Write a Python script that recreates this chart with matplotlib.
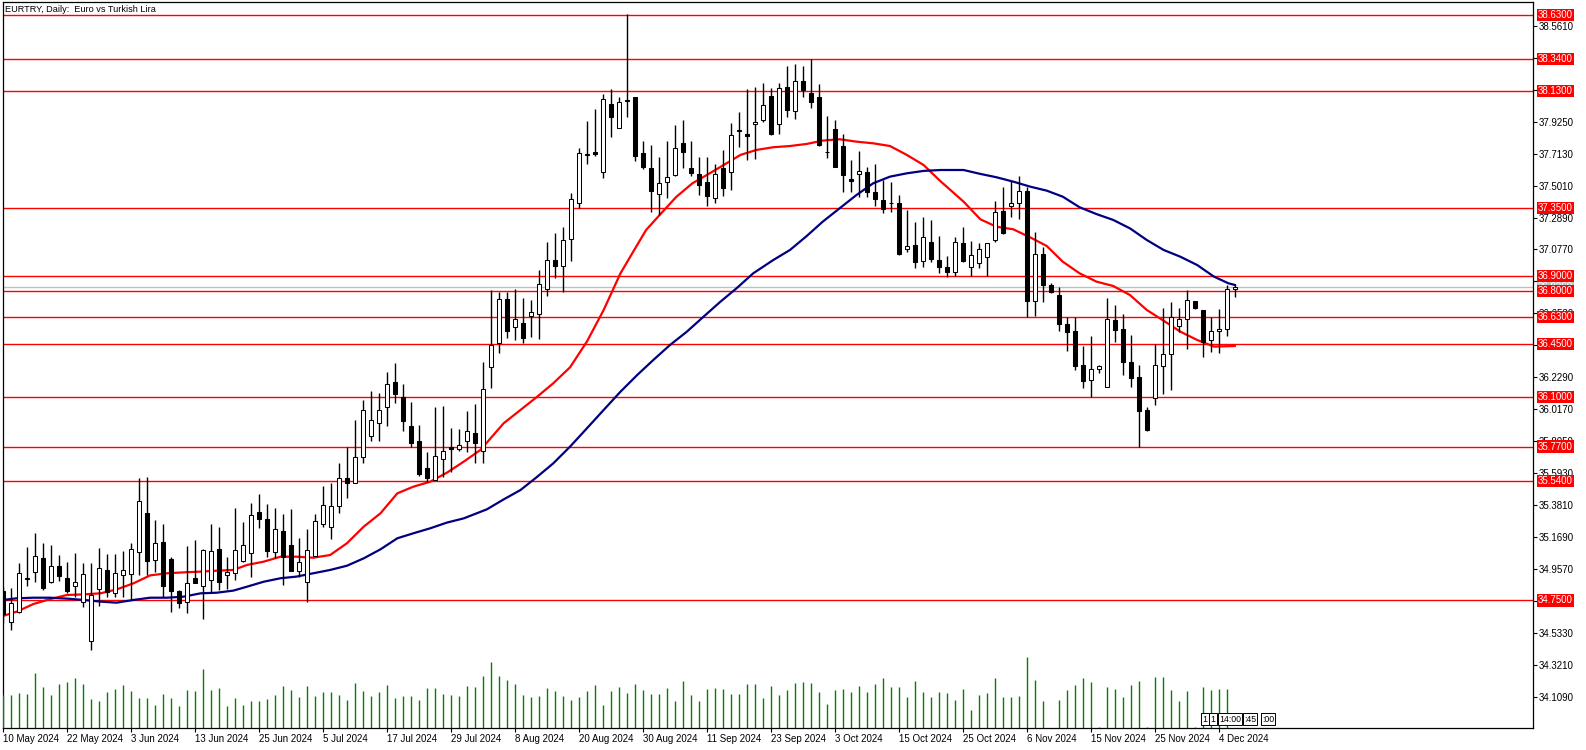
import matplotlib
matplotlib.use("Agg")
import matplotlib.pyplot as plt

plt.rcParams['font.family'] = ['Liberation Sans', 'DejaVu Sans']

# EURTRY daily bars, 10 May 2024 -> 6 Dec 2024 (bar index 0..154)
opens = [34.81, 34.61, 34.675, 34.89, 34.941, 35.031, 34.874, 34.976, 34.899, 34.843,
         34.737, 34.483, 34.823, 34.949, 34.801, 34.921, 34.923, 35.073, 35.330, 35.016,
         35.135, 35.025, 34.810, 34.737, 34.899, 34.843, 34.885, 35.091, 34.916, 34.932,
         35.014, 35.062, 35.336, 35.290, 35.073, 35.210, 35.118, 34.947, 34.874, 35.045,
         35.255, 35.239, 35.378, 35.560, 35.527, 35.699, 35.838, 35.929, 36.030, 36.198,
         36.101, 35.907, 35.807, 35.628, 35.549, 35.686, 35.770, 35.752, 35.805, 35.858,
         35.743, 36.300, 36.455, 36.747, 36.561, 36.588, 36.638, 36.647, 36.813, 37.007,
         36.970, 37.144, 37.383, 37.706, 37.724, 37.593, 38.042, 37.885, 38.068, 38.086,
         37.715, 37.615, 37.443, 37.522, 37.569, 37.781, 37.615, 37.578, 37.527, 37.416,
         37.615, 37.589, 37.863, 37.843, 37.907, 37.934, 38.095, 37.907, 38.152, 37.993,
         38.192, 38.113, 38.086, 37.721, 37.874, 37.763, 37.542, 37.576, 37.591, 37.458,
         37.405, 37.383, 37.383, 37.078, 37.107, 37.003, 37.127, 37.007, 36.961, 36.930,
         37.118, 36.963, 36.990, 37.025, 37.140, 37.330, 37.365, 37.383, 37.463, 36.736,
         37.045, 36.842, 36.775, 36.583, 36.534, 36.311, 36.212, 36.282, 36.167, 36.609,
         36.550, 36.331, 36.232, 36.013, 36.090, 36.307, 36.382, 36.572, 36.614, 36.733,
         36.676, 36.475, 36.534, 36.548, 36.815]
highs = [34.84, 34.835, 34.996, 35.102, 35.195, 35.128, 35.115, 35.049, 35.003, 35.062,
         34.996, 34.996, 35.095, 35.056, 35.058, 35.078, 35.128, 35.560, 35.566, 35.283,
         35.257, 35.040, 34.819, 35.111, 35.148, 35.093, 35.257, 35.237, 35.038, 35.361,
         35.272, 35.394, 35.456, 35.389, 35.361, 35.321, 35.356, 35.164, 35.221, 35.323,
         35.509, 35.529, 35.661, 35.770, 35.946, 36.079, 36.139, 36.123, 36.265, 36.324,
         36.183, 36.068, 35.911, 35.732, 36.033, 36.039, 35.896, 35.887, 36.006, 36.053,
         36.331, 36.808, 36.797, 36.797, 36.813, 36.753, 36.742, 36.941, 37.127, 37.184,
         37.228, 37.454, 37.752, 37.929, 38.009, 38.108, 38.139, 38.090, 38.639, 38.090,
         37.796, 37.770, 37.688, 37.796, 37.903, 37.936, 37.796, 37.688, 37.688, 37.644,
         37.737, 37.914, 37.991, 38.141, 38.157, 38.179, 38.146, 38.183, 38.294, 38.307,
         38.294, 38.340, 38.175, 37.965, 37.936, 37.843, 37.671, 37.730, 37.626, 37.644,
         37.538, 37.527, 37.439, 37.339, 37.262, 37.295, 37.273, 37.167, 37.034, 37.158,
         37.224, 37.136, 37.122, 37.122, 37.399, 37.494, 37.531, 37.564, 37.494, 37.193,
         37.091, 36.857, 36.826, 36.632, 36.632, 36.437, 36.503, 36.311, 36.753, 36.709,
         36.647, 36.510, 36.311, 36.035, 36.450, 36.687, 36.731, 36.687, 36.808, 36.738,
         36.676, 36.632, 36.680, 36.842, 36.848]
lows = [34.60, 34.554, 34.664, 34.846, 34.874, 34.819, 34.868, 34.881, 34.801, 34.775,
        34.709, 34.421, 34.713, 34.775, 34.775, 34.775, 34.753, 34.919, 34.919, 34.941,
        34.775, 34.675, 34.697, 34.664, 34.863, 34.625, 34.808, 34.819, 34.826, 34.886,
        35.007, 34.908, 35.232, 35.040, 35.029, 34.852, 34.947, 34.908, 34.742, 35.045,
        35.239, 35.160, 35.332, 35.432, 35.527, 35.664, 35.809, 35.809, 35.909, 36.061,
        35.876, 35.765, 35.575, 35.538, 35.549, 35.571, 35.604, 35.741, 35.737, 35.664,
        35.664, 36.156, 36.393, 36.488, 36.477, 36.459, 36.499, 36.484, 36.771, 36.890,
        36.793, 37.003, 37.350, 37.642, 37.699, 37.549, 37.825, 37.880, 37.958, 37.666,
        37.609, 37.328, 37.306, 37.416, 37.567, 37.615, 37.564, 37.438, 37.366, 37.383,
        37.432, 37.472, 37.759, 37.671, 37.675, 37.925, 37.836, 37.843, 37.958, 37.940,
        38.091, 38.013, 37.763, 37.682, 37.622, 37.461, 37.461, 37.427, 37.427, 37.368,
        37.317, 37.328, 37.041, 37.063, 36.957, 36.963, 36.996, 36.919, 36.897, 36.901,
        36.996, 36.901, 36.952, 36.901, 37.129, 37.178, 37.295, 37.281, 36.627, 36.638,
        36.731, 36.786, 36.539, 36.406, 36.278, 36.161, 36.097, 36.256, 36.167, 36.466,
        36.245, 36.167, 35.770, 35.876, 36.046, 36.119, 36.145, 36.532, 36.417, 36.685,
        36.362, 36.399, 36.388, 36.503, 36.764]
closes = [34.66, 34.731, 34.930, 34.90, 35.042, 34.834, 34.976, 34.914, 34.815, 34.870,
          34.923, 34.784, 34.963, 34.806, 34.930, 34.949, 35.089, 35.407, 35.014, 35.128,
          34.848, 34.810, 34.731, 34.863, 34.868, 35.084, 35.078, 34.870, 34.938, 35.084,
          35.115, 35.314, 35.288, 35.080, 35.221, 35.040, 34.947, 35.003, 35.085, 35.277,
          35.381, 35.376, 35.560, 35.527, 35.701, 36.013, 35.944, 36.013, 36.183, 36.121,
          35.942, 35.796, 35.588, 35.564, 35.708, 35.739, 35.752, 35.779, 35.871, 35.792,
          36.150, 36.444, 36.747, 36.539, 36.614, 36.488, 36.660, 36.846, 37.007, 36.970,
          37.140, 37.410, 37.715, 37.710, 37.710, 38.073, 37.953, 38.053, 38.060, 37.699,
          37.626, 37.467, 37.520, 37.560, 37.748, 37.726, 37.582, 37.503, 37.434, 37.576,
          37.487, 37.834, 37.866, 37.830, 37.923, 38.033, 37.841, 38.146, 38.000, 38.192,
          38.135, 38.057, 37.770, 37.724, 37.626, 37.573, 37.534, 37.598, 37.456, 37.412,
          37.343, 37.385, 37.045, 37.102, 36.992, 37.158, 37.012, 36.963, 36.930, 37.127,
          37.003, 37.038, 37.078, 37.122, 37.326, 37.184, 37.383, 37.463, 36.738, 37.045,
          36.844, 36.795, 36.581, 36.532, 36.307, 36.207, 36.282, 36.304, 36.614, 36.543,
          36.333, 36.227, 36.008, 35.880, 36.311, 36.384, 36.627, 36.614, 36.742, 36.687,
          36.466, 36.534, 36.550, 36.813, 36.830]
volumes = [100, 100, 106, 103, 169, 127, 100, 136, 142, 154,
           136, 88, 82, 112, 121, 133, 115, 91, 91, 70,
           103, 91, 67, 118, 115, 181, 118, 124, 67, 91,
           70, 82, 82, 88, 100, 130, 118, 94, 130, 97,
           109, 109, 100, 85, 139, 115, 97, 109, 133, 91,
           97, 97, 85, 124, 124, 103, 100, 97, 130, 127,
           160, 202, 160, 148, 136, 100, 94, 97, 124, 115,
           97, 85, 94, 115, 133, 70, 115, 127, 106, 136,
           118, 103, 103, 124, 82, 145, 100, 82, 121, 124,
           121, 103, 103, 136, 136, 91, 130, 100, 118, 139,
           142, 139, 109, 73, 118, 121, 112, 130, 112, 136,
           154, 127, 127, 94, 145, 112, 94, 112, 106, 85,
           121, 55, 100, 106, 154, 94, 94, 97, 218, 148,
           82, 0, 85, 118, 133, 154, 142, 3, 127, 121,
           94, 133, 145, 3, 157, 157, 118, 82, 115, 3,
           127, 118, 121, 121, 0]

# moving averages (bar position, value)
ma_fast_x = [0, 1.7, 3.8, 5.9, 8, 10.1, 12.2, 14.2, 16.3, 18.4, 20.5, 22.6, 24.7, 26.7,
             28.8, 30.5, 32.6, 34.7, 36.7, 38.8, 40.9, 43, 45.1, 47.2, 49.3, 51.3, 53.4,
             55.5, 57.6, 59.7, 62.6, 64.7, 66.7, 68.8, 70.9, 73, 75.1, 77.2, 78.8, 80.4,
             82.1, 84.2, 86.2, 88, 90.1, 92.2, 94.2, 96.3, 98.4, 100.5, 102.5, 104.6,
             106.7, 108.8, 110.9, 113, 115.1, 117.2, 120.1, 122.2, 124.2, 126.3, 128.4,
             130.5, 132.5, 134.6, 136.7, 138.8, 140.9, 143, 145.1, 147.2, 149.3, 151.4, 154]
ma_fast = [34.647, 34.675, 34.726, 34.759, 34.786, 34.790, 34.797, 34.823, 34.863, 34.916,
           34.930, 34.936, 34.941, 34.947, 34.952, 34.985, 35.007, 35.040, 35.040, 35.033,
           35.051, 35.129, 35.239, 35.328, 35.460, 35.504, 35.537, 35.597, 35.670, 35.748,
           35.925, 36.013, 36.097, 36.190, 36.296, 36.466, 36.676, 36.919, 37.063, 37.206,
           37.306, 37.427, 37.516, 37.571, 37.637, 37.704, 37.737, 37.755, 37.763, 37.777,
           37.799, 37.808, 37.792, 37.781, 37.763, 37.704, 37.637, 37.530, 37.394, 37.277,
           37.228, 37.211, 37.158, 37.100, 36.996, 36.919, 36.864, 36.835, 36.775, 36.676,
           36.605, 36.532, 36.477, 36.433, 36.437]
ma_slow_x = [0, 1.7, 3.8, 5.9, 8, 10.1, 12.2, 14.2, 16.3, 18.4, 20.5, 22.6, 24.7, 26.7,
             28.8, 30.5, 32.6, 34.7, 36.7, 38.8, 40.9, 43, 45.1, 47.2, 49.3, 51.3, 53.4,
             55.5, 57.6, 60.5, 62.6, 64.7, 66.7, 68.8, 70.9, 73, 75.1, 77.2, 79.3, 81.3,
             83.4, 85.5, 87.6, 89.7, 91.7, 93.8, 96.3, 98.4, 100.5, 102.5, 104.6, 106.7,
             108.8, 110.9, 113, 115.1, 117.2, 120.1, 122.2, 124.2, 126.3, 128.4, 130.5,
             132.5, 134.6, 136.7, 138.8, 140.9, 143, 145.1, 147.2, 149.3, 151.4, 153.2, 154]
ma_slow = [34.753, 34.764, 34.768, 34.768, 34.762, 34.753, 34.742, 34.735, 34.753, 34.768,
           34.768, 34.775, 34.797, 34.801, 34.815, 34.841, 34.874, 34.897, 34.908, 34.930,
           34.952, 34.980, 35.029, 35.089, 35.162, 35.195, 35.228, 35.266, 35.294, 35.354,
           35.420, 35.482, 35.566, 35.659, 35.770, 35.891, 36.013, 36.134, 36.245, 36.344,
           36.444, 36.532, 36.632, 36.731, 36.819, 36.919, 37.007, 37.074, 37.167, 37.262,
           37.350, 37.438, 37.516, 37.560, 37.582, 37.598, 37.604, 37.604, 37.578, 37.556,
           37.527, 37.494, 37.467, 37.427, 37.357, 37.312, 37.273, 37.217, 37.140, 37.074,
           37.029, 36.974, 36.897, 36.853, 36.842]

levels = [38.63, 38.34, 38.13, 37.35, 36.90, 36.80, 36.63, 36.45, 36.10, 35.77, 35.54, 34.75]
bid = 36.826
price_ticks = [38.561, 38.349, 38.137, 37.925, 37.713, 37.501, 37.289, 37.077, 36.865,
               36.653, 36.441, 36.229, 36.017, 35.805, 35.593, 35.381, 35.169, 34.957,
               34.745, 34.533, 34.321, 34.109]
date_labels = ['10 May 2024', '22 May 2024', '3 Jun 2024', '13 Jun 2024', '25 Jun 2024',
               '5 Jul 2024', '17 Jul 2024', '29 Jul 2024', '8 Aug 2024', '20 Aug 2024',
               '30 Aug 2024', '11 Sep 2024', '23 Sep 2024', '3 Oct 2024', '15 Oct 2024',
               '25 Oct 2024', '6 Nov 2024', '15 Nov 2024', '25 Nov 2024', '4 Dec 2024']

W, H = 1586, 750
fig = plt.figure(figsize=(W / 100, H / 100), dpi=100)
ax = fig.add_axes([3 / W, (H - 728) / H, 1530 / W, 726 / H])
ax.set_xlim(0.04, 0.04 + 1530 / 8)
ax.set_ylim(33.904, 38.718)

# volumes in their own scale at the bottom
vax = ax.twinx()
vax.set_ylim(0, 2229)
vax.vlines(range(len(volumes)), 0, volumes, color='#008000', linewidth=1.0)
vax.set_yticks([])
vax.axis('off')

# support / resistance levels
for lv in levels:
    ax.axhline(lv, color='#ff0000', linewidth=1.0, zorder=1)
ax.axhline(bid, color='#c0c0c0', linewidth=1.0, zorder=1)

ax.plot(ma_fast_x, ma_fast, color='#ff0000', linewidth=1.6, zorder=2)
ax.plot(ma_slow_x, ma_slow, color='#000080', linewidth=1.6, zorder=2)

# candles
xs = list(range(len(opens)))
ax.vlines(xs, lows, highs, color='black', linewidth=1.0, zorder=3)
for i in xs:
    o, c = opens[i], closes[i]
    body = max(abs(c - o), 0.004)
    fc = 'white' if c >= o else 'black'
    ax.bar(i, body, bottom=min(o, c), width=0.5, color=fc, edgecolor='black',
           linewidth=0.75, zorder=4)

# axes look
for sp in ax.spines.values():
    sp.set_color('black')
    sp.set_linewidth(0.9)
ax.yaxis.tick_right()
ax.set_yticks(price_ticks)
ax.set_yticklabels(['%.4f' % t for t in price_ticks])
ax.tick_params(axis='y', length=3, width=0.8, pad=1, labelsize=7)
ax.set_xticks([8 * k for k in range(len(date_labels))])
ax.set_xticklabels(date_labels, ha='left')
ax.tick_params(axis='x', length=3, width=0.8, pad=1.5, labelsize=7)

lbl_kw = dict(xycoords=('axes fraction', 'data'), textcoords='offset pixels',
              va='center', ha='left', fontsize=7, annotation_clip=False)
ax.annotate('%.4f' % bid, xy=(1, bid), xytext=(5, 0), color='white', zorder=5,
            bbox=dict(boxstyle='square,pad=0.12', fc='#c0c0c0', ec='none'), **lbl_kw)
for lv in levels:
    ax.annotate('%.4f' % lv, xy=(1, lv), xytext=(5, 0), color='white', zorder=6,
                bbox=dict(boxstyle='square,pad=0.12', fc='#ff0000', ec='none'), **lbl_kw)

fig.text(5 / W, 1 - 9 / H, 'EURTRY, Daily:  Euro vs Turkish Lira', fontsize=6.6,
         va='center', ha='left')

# small time-scale markers at the bottom right
for txt, px in [('1', 1205), ('1', 1213), ('14:00', 1230), (':45', 1250), (':00', 1268)]:
    fig.text(px / W, 1 - 719 / H, txt, fontsize=6.3, ha='center', va='center',
             bbox=dict(boxstyle='square,pad=0.15', fc='white', ec='black', lw=0.7))

fig.savefig('out.png', dpi=100, facecolor='white')
